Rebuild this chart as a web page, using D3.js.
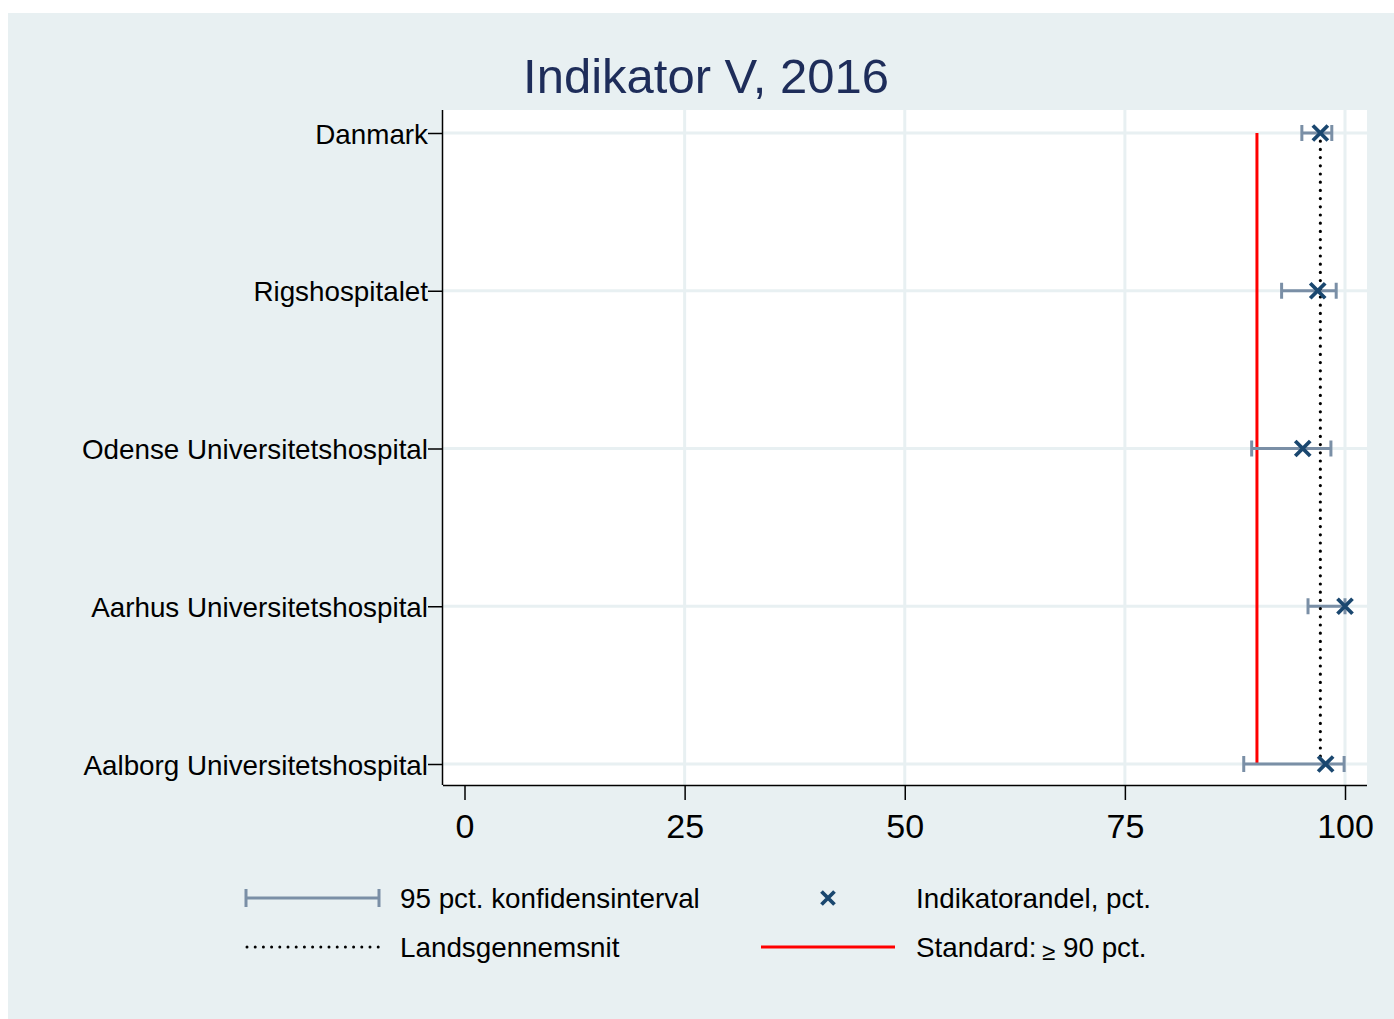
<!DOCTYPE html>
<html>
<head>
<meta charset="utf-8">
<script src="https://cdn.jsdelivr.net/npm/d3@7"></script>
<style>
  body { margin: 0; background: #fff; }
  svg { display: block; font-family: "Liberation Sans", Arial, sans-serif; }
</style>
</head>
<body>
<svg id="chart" width="1394" height="1019"></svg>
<script>
// chart data
var hospitals = ['Danmark', 'Rigshospitalet', 'Odense Universitetshospital',
                 'Aarhus Universitetshospital', 'Aalborg Universitetshospital'];
var andel   = [97.2, 96.9, 95.2, 100, 97.8];
var ciLow   = [95.1, 92.8, 89.4, 95.8, 88.5];
var ciHigh  = [98.5, 99.0, 98.4, 100, 99.9];
var landsgennemsnit = 97.2;
var standard = 90;
var xTicks = [0, 25, 50, 75, 100];

var svg = d3.select('#chart');
var plot = { left: 443, right: 1367, top: 110, bottom: 785 };

// background panel
svg.append('rect')
   .attr('x', 8).attr('y', 13)
   .attr('width', 1386).attr('height', 1006)
   .attr('fill', '#e8f0f2');
svg.append('rect')
   .attr('x', plot.left).attr('y', plot.top)
   .attr('width', plot.right - plot.left).attr('height', plot.bottom - plot.top)
   .attr('fill', '#ffffff');

var x = d3.scaleLinear().domain([0, 100]).range([464.5, 1345]);
var y = d3.scalePoint().domain(hospitals).range([133, 764]);

// grid lines
svg.append('g')
   .selectAll('line')
   .data(xTicks.slice(1))
   .enter().append('line')
   .attr('x1', d => x(d)).attr('x2', d => x(d))
   .attr('y1', plot.top).attr('y2', plot.bottom)
   .attr('stroke', '#e8f0f2').attr('stroke-width', 3);
svg.append('g')
   .selectAll('line')
   .data(hospitals)
   .enter().append('line')
   .attr('x1', plot.left).attr('x2', plot.right)
   .attr('y1', d => y(d)).attr('y2', d => y(d))
   .attr('stroke', '#e8f0f2').attr('stroke-width', 3);

// x axis
svg.append('g')
   .attr('transform', 'translate(0,' + plot.bottom + ')')
   .call(d3.axisBottom(x).tickValues(xTicks).tickSize(15))
   .call(g => g.select('.domain').attr('d', 'M' + plot.left + ',0.5H' + plot.right).attr('stroke', '#000').attr('stroke-width', 1.5))
   .call(g => g.selectAll('.tick line').attr('stroke', '#000').attr('stroke-width', 1.5))
   .call(g => g.selectAll('.tick text').attr('font-size', 34).attr('fill', '#000')
               .attr('y', 53).attr('dy', 0)
               .attr('font-family', '"Liberation Sans", Arial, sans-serif'));

// y axis
svg.append('g')
   .attr('transform', 'translate(' + plot.left + ',0)')
   .call(d3.axisLeft(y).tickSize(15).tickPadding(0))
   .call(g => g.select('.domain').attr('d', 'M-0.5,' + plot.top + 'V' + plot.bottom).attr('stroke', '#000').attr('stroke-width', 1.5))
   .call(g => g.selectAll('.tick line').attr('stroke', '#000').attr('stroke-width', 1.5))
   .call(g => g.selectAll('.tick text').attr('font-size', 27.8).attr('fill', '#000')
               .attr('dy', '0.36em')
               .attr('font-family', '"Liberation Sans", Arial, sans-serif'));

// standard line
svg.append('line')
   .attr('x1', x(standard)).attr('x2', x(standard))
   .attr('y1', y(hospitals[0])).attr('y2', y(hospitals[hospitals.length - 1]))
   .attr('stroke', '#ff0000').attr('stroke-width', 3);

// confidence intervals
var ciColor = '#7a8fa6';
var ci = svg.append('g').selectAll('g')
   .data(hospitals)
   .enter().append('g');
ci.append('line')
  .attr('x1', (d, i) => x(ciLow[i])).attr('x2', (d, i) => x(ciHigh[i]))
  .attr('y1', d => y(d)).attr('y2', d => y(d))
  .attr('stroke', ciColor).attr('stroke-width', 3);
ci.append('line')
  .attr('x1', (d, i) => x(ciLow[i])).attr('x2', (d, i) => x(ciLow[i]))
  .attr('y1', d => y(d) - 8).attr('y2', d => y(d) + 8)
  .attr('stroke', ciColor).attr('stroke-width', 3);
ci.append('line')
  .attr('x1', (d, i) => x(ciHigh[i])).attr('x2', (d, i) => x(ciHigh[i]))
  .attr('y1', d => y(d) - 8).attr('y2', d => y(d) + 8)
  .attr('stroke', ciColor).attr('stroke-width', 3);

// national average (dotted)
svg.append('line')
   .attr('x1', x(landsgennemsnit)).attr('x2', x(landsgennemsnit))
   .attr('y1', y(hospitals[0])).attr('y2', y(hospitals[hospitals.length - 1]))
   .attr('stroke', '#000').attr('stroke-width', 3.2)
   .attr('stroke-linecap', 'round').attr('stroke-dasharray', '0,8.2');

// markers
var markColor = '#1a476f';
var crossPath = 'M-7.5,-7.5L7.5,7.5M-7.5,7.5L7.5,-7.5';
svg.append('g').selectAll('path')
   .data(hospitals)
   .enter().append('path')
   .attr('transform', (d, i) => 'translate(' + x(andel[i]) + ',' + y(d) + ')')
   .attr('d', crossPath)
   .attr('stroke', markColor).attr('stroke-width', 3.8).attr('fill', 'none');

// title
svg.append('text')
   .attr('x', 706).attr('y', 93)
   .attr('text-anchor', 'middle')
   .attr('font-size', 49)
   .attr('fill', '#1e2d5a')
   .text('Indikator V, 2016');

// legend
var leg = svg.append('g').attr('font-size', 27.8).attr('fill', '#000');
leg.append('line').attr('x1', 246).attr('x2', 379).attr('y1', 898).attr('y2', 898)
   .attr('stroke', ciColor).attr('stroke-width', 3);
leg.append('line').attr('x1', 246).attr('x2', 246).attr('y1', 889).attr('y2', 907)
   .attr('stroke', ciColor).attr('stroke-width', 3);
leg.append('line').attr('x1', 379).attr('x2', 379).attr('y1', 889).attr('y2', 907)
   .attr('stroke', ciColor).attr('stroke-width', 3);
leg.append('text').attr('x', 400).attr('y', 908).text('95 pct. konfidensinterval');

leg.append('path').attr('transform', 'translate(828,898)')
   .attr('d', 'M-6.5,-6.5L6.5,6.5M-6.5,6.5L6.5,-6.5')
   .attr('stroke', markColor).attr('stroke-width', 3.8).attr('fill', 'none');
leg.append('text').attr('x', 916).attr('y', 908).text('Indikatorandel, pct.');

leg.append('line').attr('x1', 247).attr('x2', 379).attr('y1', 947).attr('y2', 947)
   .attr('stroke', '#000').attr('stroke-width', 3)
   .attr('stroke-linecap', 'round').attr('stroke-dasharray', '0,8.2');
leg.append('text').attr('x', 400).attr('y', 957).text('Landsgennemsnit');

leg.append('line').attr('x1', 761).attr('x2', 895).attr('y1', 947).attr('y2', 947)
   .attr('stroke', '#ff0000').attr('stroke-width', 3);
var std = leg.append('text').attr('x', 916).attr('y', 957);
std.append('tspan').text('Standard:\u2009');
std.append('tspan').attr('font-size', 24).attr('dy', 3).text('\u2265');
std.append('tspan').attr('dy', -3).text(' 90 pct.');
</script>
</body>
</html>
